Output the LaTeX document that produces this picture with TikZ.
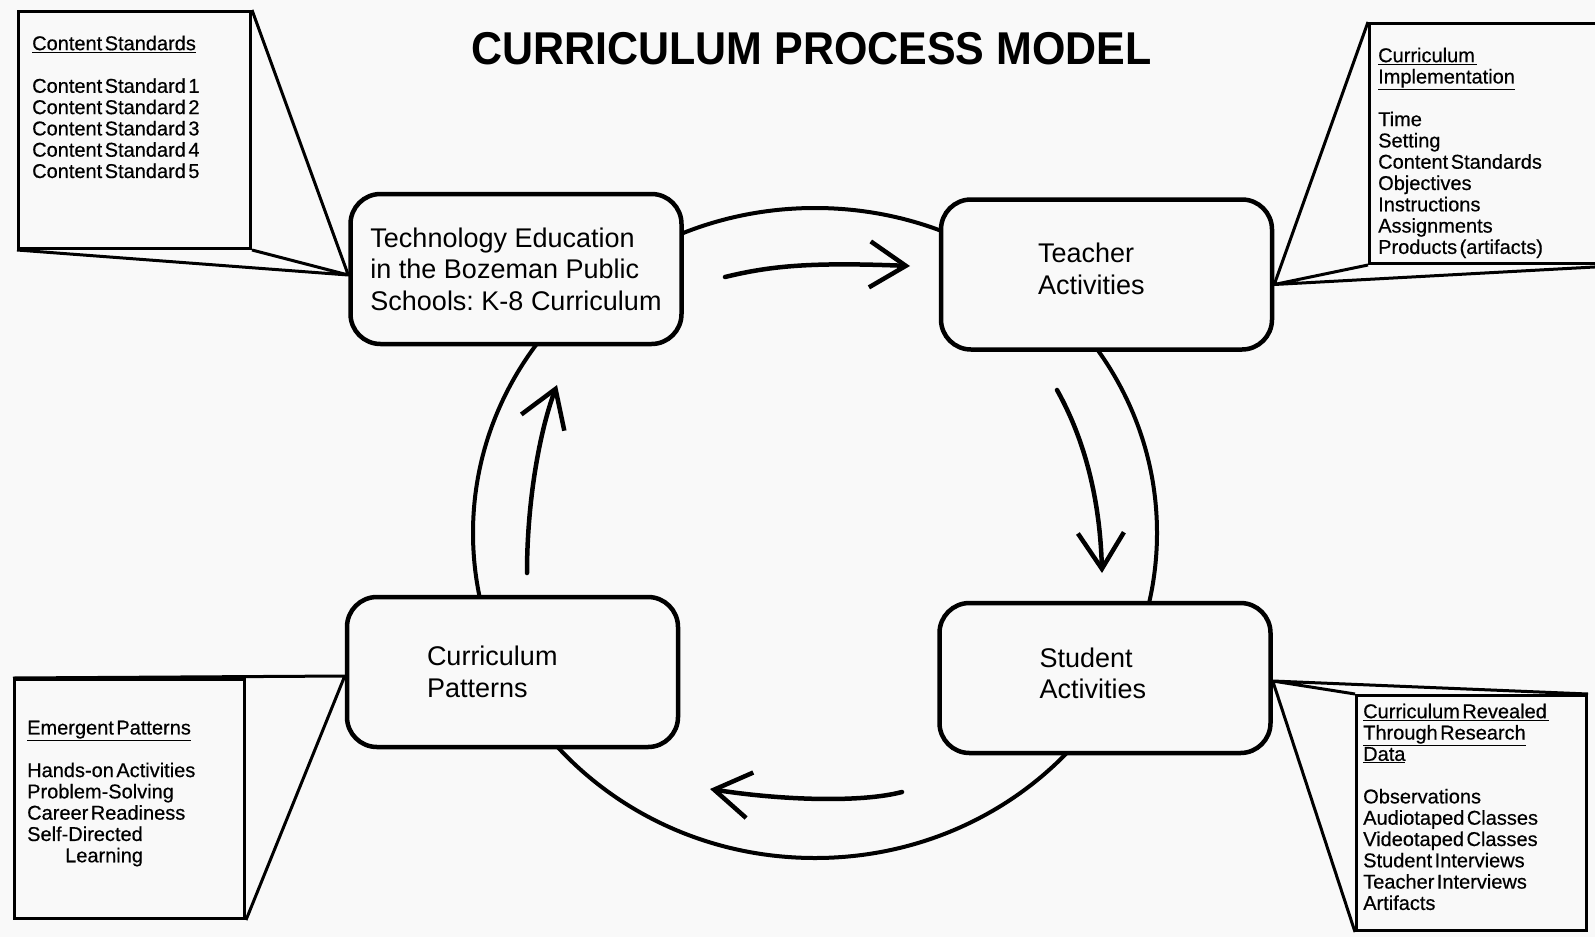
\documentclass[tikz,border=0pt]{standalone}
\usepackage{fontspec}
\setmainfont{Liberation Sans}
\newfontfamily\notefont[WordSpace=0.45,FakeBold=0.5]{Liberation Sans}
\newfontfamily\titlefont[FakeStretch=0.934]{Liberation Sans}
\usetikzlibrary{positioning,arrows.meta}
\definecolor{paper}{gray}{0.975}
\frenchspacing

\begin{document}
\begin{tikzpicture}[x=1pt, y=-1pt,
    stage/.style={draw, line width=4.5pt, rounded corners=30pt, fill=paper,
      minimum width=331pt, minimum height=150pt, align=flush left,
      font=\fontsize{27}{31.5}\selectfont},
    notebox/.style={draw, line width=3pt, fill=paper, anchor=north west, inner sep=0pt},
    note/.style={anchor=north west, inner sep=0pt, align=left,
      font=\notefont\fontsize{20}{21.3}\selectfont},
    lead/.style={line width=3pt, line join=round},
    flow/.style={line width=4.5pt, line cap=round,
      -{Straight Barb[length=36pt, width=46pt]}}
  ]
  \useasboundingbox (0,0) rectangle (1595,937);
  \clip (0,0) rectangle (1595,937);
  \fill[paper] (0,0) rectangle (1595,937);

  \node[font=\titlefont\bfseries\fontsize{46}{46}\selectfont] (title) at (811.5,48.5) {CURRICULUM PROCESS MODEL};

  \draw[line width=4pt] (815,533) ellipse [x radius=342pt, y radius=325pt];

  \node[stage, align=left] (tech) at (516,269) {Technology Education\\in the Bozeman Public\\Schools: K-8 Curriculum};
  \node[stage, text width=137pt, text depth=43.5pt] (teacher) at (1106.5,274.5) {Teacher\\Activities};
  \node[stage, text width=131pt, text depth=41.5pt] (student) at (1105,678) {Student\\Activities};
  \node[stage, text width=171pt] (patterns) at (512.5,672) {Curriculum\\Patterns};

  % the four turns of the cycle
  \coordinate (t0) at (725,277);  \coordinate (t1) at (910,266);
  \coordinate (r0) at (1057,390); \coordinate (r1) at (1102,573);
  \coordinate (b0) at (902,792);  \coordinate (b1) at (710,789);
  \coordinate (l0) at (527,573);  \coordinate (l1) at (557,385);
  \draw[flow] (t0) .. controls (770,266) and (810,262) .. (t1);
  \draw[flow] (r0) .. controls (1085,440) and (1100,500) .. (r1);
  \draw[flow] (b0) .. controls (860,803) and (780,800) .. (b1);
  \draw[flow] (l0) .. controls (527,500) and (540,430) .. (l1);

  % callouts
  \node[notebox, minimum width=232pt, minimum height=237pt] (csbox) at (17,10) {};
  \coordinate (tip1) at ([yshift=-6pt]tech.west);
  \draw[lead] (csbox.north east) -- (tip1) -- (csbox.south west) (csbox.south east) -- (tip1);
  \node[note] (cstext) at (32,35.5) {\underline{Content Standards}\\[21.3pt]
    Content Standard 1\\Content Standard 2\\Content Standard 3\\Content Standard 4\\Content Standard 5};

  \node[notebox, minimum width=260pt, minimum height=240pt] (impbox) at (1368,22) {};
  \coordinate (tip2) at ([yshift=-10pt]teacher.east);
  \draw[lead] (impbox.north west) -- (tip2) -- (impbox.south west) (tip2) -- (impbox.south east);
  \node[note] (imptext) at (1378,47.5) {\underline{Curriculum\ }\\\underline{Implementation}\\[21.3pt]
    Time\\Setting\\Content Standards\\Objectives\\Instructions\\Assignments\\Products (artifacts)};

  \node[notebox, minimum width=230pt, minimum height=239pt] (epbox) at (13,678) {};
  \coordinate (tip3) at ([yshift=-4pt]patterns.west);
  \draw[lead] (epbox.north west) -- (tip3) -- (epbox.south east);
  \node[note] (eptext) at (27,720.5) {\underline{Emergent Patterns}\\[21.3pt]
    Hands-on Activities\\Problem-Solving\\Career Readiness\\Self-Directed\\\hspace*{38pt}Learning};

  \node[notebox, minimum width=230pt, minimum height=235pt] (rdbox) at (1355,694) {};
  \coordinate (tip4) at ([yshift=-3pt]student.east);
  \draw[lead] (rdbox.north west) -- (tip4) -- (rdbox.north east) (tip4) -- (rdbox.south west);
  \node[note] (rdtext) at (1363,703.5) {\underline{Curriculum Revealed\ }\\\underline{Through Research}\\\underline{Data}\\[21.3pt]
    Observations\\Audiotaped Classes\\Videotaped Classes\\Student Interviews\\Teacher Interviews\\Artifacts};
\end{tikzpicture}
\end{document}
